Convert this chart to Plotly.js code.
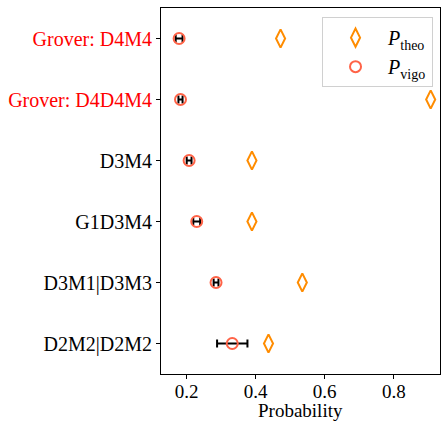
<!DOCTYPE html>
<html>
<head>
<meta charset="utf-8">
<script src="https://cdn.plot.ly/plotly-3.0.1.min.js"></script>
<style>html,body{margin:0;padding:0;background:#fff;}#chart{width:441px;height:422px;}</style>
</head>
<body>
<div id="chart"></div>
<script>
// Categories, top to bottom
const categories = ["Grover: D4M4", "Grover: D4D4M4", "D3M4", "G1D3M4", "D3M1|D3M3", "D2M2|D2M2"];
const highlighted = [true, true, false, false, false, false];
const pTheo = [0.472, 0.907, 0.389, 0.389, 0.535, 0.437];
const pVigo = [0.178, 0.182, 0.207, 0.229, 0.285, 0.332];
const pVigoErr = [0.010, 0.006, 0.007, 0.010, 0.007, 0.044];
const xTicks = [0.2, 0.4, 0.6, 0.8];
const xTitle = 'Probability';

const tickText = categories.map((c, i) =>
  highlighted[i] ? '<span style="fill:#ff0000;color:#ff0000">' + c + '</span>' : c);

const family = '"Liberation Serif", "Times New Roman", serif';
const font = {family: family, size: 20, color: '#000'};
const xFont = {family: family, size: 19, color: '#000'};

const traces = [
  {
    type: 'scatter', mode: 'markers',
    x: pTheo, y: categories,
    name: '<i>P</i><sub>theo</sub>',
    marker: {symbol: 'diamond-tall-open', size: 13, color: '#ff8c00', line: {width: 2, color: '#ff8c00'}},
    hoverinfo: 'x+y'
  },
  {
    type: 'scatter', mode: 'markers',
    x: pVigo, y: categories,
    name: '<i>P</i><sub>vigo</sub>',
    marker: {symbol: 'circle-open', size: 11, color: '#ff6347', line: {width: 2, color: '#ff6347'}},
    error_x: {type: 'data', array: pVigoErr, visible: true, color: '#000', thickness: 2, width: 4},
    hoverinfo: 'x+y'
  }
];

const layout = {
  width: 441, height: 422,
  margin: {l: 161, r: 1, t: 8, b: 48},
  paper_bgcolor: '#fff', plot_bgcolor: '#fff',
  font: font,
  showlegend: true,
  legend: {
    x: 0.975, xanchor: 'right', y: 0.975, yanchor: 'top',
    bgcolor: '#fff', bordercolor: '#d0d0d0', borderwidth: 1,
    font: font, tracegroupgap: 0, itemwidth: 55
  },
  xaxis: {
    range: [0.1255, 0.934],
    tickvals: xTicks, ticktext: xTicks.map(v => v.toFixed(1)),
    ticks: 'outside', ticklen: 4, tickwidth: 1, tickcolor: '#000',
    ticklabelstandoff: -4,
    showgrid: false, zeroline: false,
    showline: true, linecolor: '#000', linewidth: 1, mirror: true,
    tickfont: xFont
  },
  yaxis: {
    type: 'category',
    categoryorder: 'array', categoryarray: categories.slice().reverse(),
    tickvals: categories, ticktext: tickText,
    range: [-0.5, 5.5],
    ticks: 'outside', ticklen: 4, tickwidth: 1, tickcolor: '#000',
    showgrid: false, zeroline: false,
    showline: true, linecolor: '#000', linewidth: 1, mirror: true,
    tickfont: font
  },
  annotations: [{
    text: xTitle, xref: 'paper', yref: 'paper', x: 0.5, y: -0.1311,
    xanchor: 'center', yanchor: 'bottom', showarrow: false, font: xFont, borderpad: 0
  }]
};

Plotly.newPlot('chart', traces, layout, {displayModeBar: false, staticPlot: true});
</script>
</body>
</html>
